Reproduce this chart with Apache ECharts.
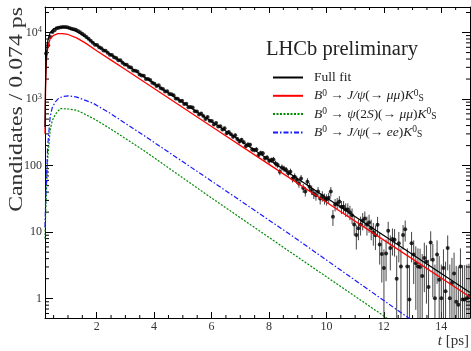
<!DOCTYPE html>
<html>
<head>
<meta charset="utf-8">
<script src="https://cdn.jsdelivr.net/npm/echarts@6/dist/echarts.min.js"></script>
<style>
  html, body { margin: 0; padding: 0; background: #fff; }
  #main { width: 471px; height: 351px; }
</style>
</head>
<body>
<div id="main"></div>
<script>
// 分箱: 0.2 ps 起, 每箱 0.074 ps (共 200 箱)
var binStart = 0.2;
var binWidth = 0.074;
var counts = [
  4830, 6430, 8570, 10190, 10790, 11560, 11850, 12050, 12070, 12070,
  11970, 11750, 11430, 11160, 10970, 10550, 10100, 9600, 9100, 8550,
  8050, 7520, 7050, 6535, 6478, 5989, 5820, 5378, 5332, 4979,
  4648, 4607, 4260, 4139, 3826, 3830, 3507, 3306, 3277, 3030,
  2973, 2694, 2671, 2595, 2351, 2262, 2242, 2011, 1995, 1937,
  1756, 1707, 1577, 1610, 1460, 1419, 1298, 1312, 1190, 1179,
  1145, 1018, 1009, 933, 943, 847, 848, 752, 761, 747,
  657, 651, 589, 608, 557, 504, 536, 472, 468, 415,
  437, 388, 389, 349, 364, 306, 320, 296, 271, 287,
  251, 231, 244, 225, 195, 208, 206, 175, 171, 175,
  144, 155, 153, 129, 132, 118, 121, 124, 108, 102,
  81, 94, 90, 86, 77, 81, 64, 68, 61, 54,
  64, 46, 41, 57, 48, 43, 38, 36, 41, 32,
  35, 32, 31, 33, 41, 17, 26, 27, 29, 24,
  24, 22, 22, 20, 18, 13, 9.1, 11.5, 13, 15,
  16, 13, 14, 11.5, 10, 9, 12.9, 6.5, 4.7, 2.9,
  4.8, 10.5, 5.8, 7.9, 7.7, 2.0, 6.8, 3.05, 9.1, 11.1,
  3.05, 0.97, 6.8, 4.6, 3.4, 3.05, 3.0, 2.2, 4.1, 3.6,
  1.5, 7.0, 3.85, 1.02, 4.6, 1.93, 1.02, 2.9, 1.3, 5.8,
  1.02, 1.72, 2.4, 0.9, 0.81, 3.05, 0.97, 0.97, 1.02, 1.1
];

// 拟合曲线
var fitT = [0.2, 0.22, 0.25, 0.3, 0.38, 0.5, 0.65, 0.8, 1.0, 1.3, 1.6, 2.0, 2.5, 3.0, 4.0, 6.0, 8.0, 10.0, 12.0, 15.0];
var fullFitV = [380, 1900, 4900, 7600, 10000, 11400, 11950, 12050, 11700, 10400, 8650, 6450, 4620, 3330, 1720, 460, 123, 33, 8.9, 1.24];
var jpsiMuMuV = [300, 1500, 3900, 6100, 8100, 9100, 9600, 9650, 9350, 8300, 7000, 5340, 3850, 2780, 1440, 388, 104.5, 28.2, 7.6, 1.06];
var psi2sT = [0.2, 0.22, 0.25, 0.29, 0.38, 0.45, 0.56, 0.73, 1.02, 1.31, 1.89, 2.47, 3.62, 5.94, 8.84, 12.11, 12.6];
var psi2sV = [8, 18, 40, 120, 340, 470, 590, 720, 710, 680, 510, 360, 171, 34, 4.7, 0.51, 0.36];
var jpsiEeT = [0.2, 0.22, 0.25, 0.29, 0.38, 0.45, 0.56, 0.68, 0.84, 1.02, 1.31, 1.89, 2.47, 3.62, 5.94, 8.84, 12.87, 13.3];
var jpsiEeV = [12, 28, 60, 190, 540, 740, 910, 1030, 1100, 1120, 1070, 860, 610, 288, 61, 8.6, 0.51, 0.37];

// 刻度
var xMajorTicks = [2, 4, 6, 8, 10, 12, 14];
var xMinorTicks = [0.5, 1, 1.5, 2.5, 3, 3.5, 4.5, 5, 5.5, 6.5, 7, 7.5, 8.5, 9, 9.5, 10.5, 11, 11.5, 12.5, 13, 13.5, 14.5];
var yMinorTicks = [
  0.6, 0.7, 0.8, 0.9, 2, 3, 4, 5, 6, 7, 8, 9,
  20, 30, 40, 50, 60, 70, 80, 90,
  200, 300, 400, 500, 600, 700, 800, 900,
  2000, 3000, 4000, 5000, 6000, 7000, 8000, 9000, 20000
];

var legendNames = ["Full fit", "jpsi_mumu", "psi2s_mumu", "jpsi_ee"];
var legendLabels = {
  "Full fit": "Full fit",
  "jpsi_mumu": "{i|B}{sup|0} → {i|J/ψ}(→ {i|μμ}){i|K}{sup|0}{sub|S}",
  "psi2s_mumu": "{i|B}{sup|0} → {i|ψ}(2{i|S})(→ {i|μμ}){i|K}{sup|0}{sub|S}",
  "jpsi_ee": "{i|B}{sup|0} → {i|J/ψ}(→ {i|ee}){i|K}{sup|0}{sub|S}"
};

var xMin = 0.2, xMax = 15, yMin = 0.513, yMax = 24200;
var serif = "Liberation Serif";

function pairs(ts, vs) {
  var out = [];
  for (var k = 0; k < ts.length; k++) out.push([ts[k], vs[k]]);
  return out;
}

var points = [];
for (var i = 0; i < counts.length; i++) {
  // 统计误差 (含本底)
  points.push([binStart + binWidth * (i + 0.5), counts[i], Math.sqrt(counts[i] + 4)]);
}

var chart = echarts.init(document.getElementById("main"), null, { renderer: "canvas" });

var option = {
  animation: false,
  backgroundColor: "#fff",
  title: {
    text: "LHCb preliminary",
    left: 266,
    top: 39,
    padding: 0,
    textStyle: { fontFamily: serif, fontSize: 20.5, fontWeight: "normal", color: "#222" }
  },
  legend: {
    data: legendNames,
    orient: "vertical",
    left: 272,
    top: 70,
    padding: 0,
    itemWidth: 30,
    itemHeight: 14,
    itemGap: 3.3,
    selectedMode: false,
    itemStyle: { opacity: 0 },
    formatter: function (name) {
      return legendLabels[name];
    },
    textStyle: {
      fontFamily: serif,
      fontSize: 13.5,
      color: "#222",
      lineHeight: 15,
      padding: [0, 0, 0, 6],
      rich: {
        i: { fontFamily: serif, fontStyle: "italic", fontSize: 13.5, lineHeight: 15, color: "#222" },
        sup: { fontFamily: serif, fontSize: 9.5, lineHeight: 7, verticalAlign: "top", color: "#222" },
        sub: { fontFamily: serif, fontSize: 9.5, lineHeight: 7, verticalAlign: "bottom", color: "#222" }
      }
    }
  },
  graphic: [
    {
      // y 轴标题
      type: "text",
      x: 16.5,
      y: 7,
      rotation: Math.PI / 2,
      scaleX: 1.22,
      style: {
        text: "Candidates / 0.074 ps",
        fontFamily: serif,
        fontSize: 19.5,
        fill: "#333",
        align: "right",
        verticalAlign: "middle"
      }
    },
    {
      // x 轴标题
      type: "text",
      x: 469,
      y: 341.5,
      style: {
        text: "{it|t} [ps]",
        fontFamily: serif,
        fontSize: 15,
        fill: "#333",
        align: "right",
        verticalAlign: "middle",
        rich: { it: { fontFamily: serif, fontStyle: "italic", fontSize: 15, fill: "#333" } }
      }
    }
  ],
  grid: { left: 45, right: 1, top: 7, bottom: 33, outerBoundsMode: "none" },
  xAxis: [
    {
      type: "value",
      min: xMin,
      max: xMax,
      position: "bottom",
      axisLine: { show: true, lineStyle: { color: "#000", width: 1 } },
      axisTick: { show: true, inside: true, length: 6, customValues: xMajorTicks, lineStyle: { color: "#000" } },
      axisLabel: { customValues: xMajorTicks, color: "#333", fontFamily: serif, fontSize: 12, margin: 3 },
      splitLine: { show: false }
    },
    {
      type: "value",
      min: xMin,
      max: xMax,
      position: "top",
      axisLine: { show: true, lineStyle: { color: "#000", width: 1 } },
      axisTick: { show: true, inside: true, length: 6, customValues: xMajorTicks, lineStyle: { color: "#000" } },
      axisLabel: { show: false },
      splitLine: { show: false }
    }
  ],
  yAxis: [
    {
      type: "log",
      logBase: 10,
      min: yMin,
      max: yMax,
      axisLine: { show: true, lineStyle: { color: "#000", width: 1 } },
      axisTick: { show: true, inside: true, length: 8, lineStyle: { color: "#000" } },
      minorTick: { show: false },
      splitLine: { show: false },
      axisLabel: {
        margin: 3,
        color: "#333",
        fontFamily: serif,
        fontSize: 12,
        formatter: function (value) {
          var lg = Math.log10(value);
          var p = Math.round(lg);
          if (Math.abs(lg - p) > 1e-6) return "";
          if (p < 3) return "{n|" + Math.pow(10, p) + "}";
          return "{n|10}{s|" + p + "}";
        },
        rich: {
          n: { fontFamily: serif, fontSize: 12, lineHeight: 14, color: "#333" },
          s: { fontFamily: serif, fontSize: 8.5, lineHeight: 8, verticalAlign: "top", color: "#333" }
        }
      }
    },
    {
      type: "log",
      logBase: 10,
      min: yMin,
      max: yMax,
      position: "right",
      axisLine: { show: true, lineStyle: { color: "#000", width: 1 } },
      axisTick: { show: true, inside: true, length: 8, lineStyle: { color: "#000" } },
      axisLabel: { show: false },
      splitLine: { show: false }
    }
  ],
  series: [
    {
      // 误差棒
      name: "errors",
      type: "custom",
      clip: true,
      silent: true,
      encode: { x: 0, y: 1 },
      data: points,
      renderItem: function (params, api) {
        var t = api.value(0), v = api.value(1), e = api.value(2);
        var top = api.coord([t, v + e]);
        var bot = api.coord([t, Math.max(v - e, 0.05)]);
        return {
          type: "line",
          shape: { x1: top[0], y1: top[1], x2: bot[0], y2: bot[1] },
          style: { stroke: "#444", lineWidth: 1 }
        };
      }
    },
    {
      name: "data",
      type: "scatter",
      symbol: "circle",
      symbolSize: 4,
      itemStyle: { color: "#000" },
      data: points.map(function (p) { return [p[0], p[1]]; }),
      silent: true
    },
    {
      name: "psi2s_mumu",
      type: "line",
      symbol: "none",
      data: pairs(psi2sT, psi2sV),
      lineStyle: { color: "#008a00", width: 1.2, type: [2, 1.5] },
      itemStyle: { color: "#008a00" }
    },
    {
      name: "jpsi_ee",
      type: "line",
      symbol: "none",
      data: pairs(jpsiEeT, jpsiEeV),
      lineStyle: { color: "#1a1aff", width: 1.2, type: [5, 2, 1.5, 2] },
      itemStyle: { color: "#1a1aff" }
    },
    {
      name: "jpsi_mumu",
      type: "line",
      symbol: "none",
      data: pairs(fitT, jpsiMuMuV),
      lineStyle: { color: "#ff0000", width: 1.3 },
      itemStyle: { color: "#ff0000" }
    },
    {
      name: "Full fit",
      type: "line",
      symbol: "none",
      data: pairs(fitT, fullFitV),
      lineStyle: { color: "#000", width: 1.2 },
      itemStyle: { color: "#000" }
    },
    {
      // y 副刻度 (左右两侧)
      name: "yMinor",
      type: "custom",
      clip: false,
      silent: true,
      encode: { x: 0, y: 1 },
      data: yMinorTicks.map(function (v) { return [xMin, v]; }),
      renderItem: function (params, api) {
        var v = api.value(1);
        var l = api.coord([xMin, v]);
        var r = api.coord([xMax, v]);
        return {
          type: "group",
          children: [
            { type: "line", shape: { x1: l[0], y1: l[1], x2: l[0] + 4, y2: l[1] }, style: { stroke: "#000", lineWidth: 1 } },
            { type: "line", shape: { x1: r[0] - 4, y1: r[1], x2: r[0], y2: r[1] }, style: { stroke: "#000", lineWidth: 1 } }
          ]
        };
      }
    },
    {
      // x 副刻度 (上下两侧)
      name: "xMinor",
      type: "custom",
      clip: false,
      silent: true,
      encode: { x: 0, y: 1 },
      data: xMinorTicks.map(function (t) { return [t, yMin]; }),
      renderItem: function (params, api) {
        var t = api.value(0);
        var b = api.coord([t, yMin]);
        var u = api.coord([t, yMax]);
        return {
          type: "group",
          children: [
            { type: "line", shape: { x1: b[0], y1: b[1], x2: b[0], y2: b[1] - 3 }, style: { stroke: "#000", lineWidth: 1 } },
            { type: "line", shape: { x1: u[0], y1: u[1], x2: u[0], y2: u[1] + 3 }, style: { stroke: "#000", lineWidth: 1 } }
          ]
        };
      }
    }
  ]
};

chart.setOption(option);
</script>
</body>
</html>
